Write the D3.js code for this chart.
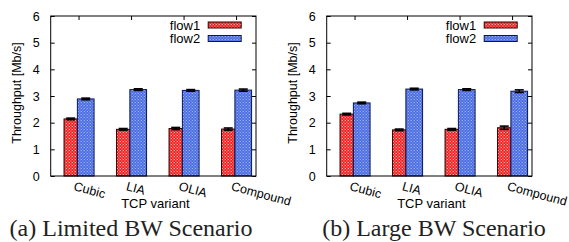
<!DOCTYPE html>
<html>
<head>
<meta charset="utf-8">
<script src="https://cdn.jsdelivr.net/npm/d3@7"></script>
<style>
  body { margin: 0; background: #fff; }
  svg { display: block; }
  text { font-family: "Liberation Sans", Arial, sans-serif; fill: #000; }
  .caption { font-family: "Liberation Serif", "Times New Roman", serif; fill: #222; }
</style>
</head>
<body>
<svg width="569" height="242"></svg>
<script>
const categories = ["Cubic", "LIA", "OLIA", "Compound"];
const seriesNames = ["flow1", "flow2"];
const yTicks = [0, 1, 2, 3, 4, 5, 6];

// (a) limited bandwidth
const limitedFlow1 = [2.14, 1.75, 1.78, 1.76];
const limitedFlow2 = [2.89, 3.24, 3.21, 3.22];
const limitedErr1 = [0.03, 0.03, 0.04, 0.04];
const limitedErr2 = [0.03, 0.03, 0.03, 0.04];

// (b) large bandwidth
const largeFlow1 = [2.32, 1.73, 1.75, 1.81];
const largeFlow2 = [2.74, 3.26, 3.24, 3.18];
const largeErr1 = [0.03, 0.03, 0.03, 0.06];
const largeErr2 = [0.03, 0.03, 0.03, 0.05];

const panels = [
  { left: 50.7, captionX: 131, caption: "(a) Limited BW Scenario", values: [limitedFlow1, limitedFlow2], errors: [limitedErr1, limitedErr2] },
  { left: 326.7, captionX: 434, caption: "(b) Large BW Scenario", values: [largeFlow1, largeFlow2], errors: [largeErr1, largeErr2] }
];

const svg = d3.select("svg");
const defs = svg.append("defs");

// checkered fills like gnuplot's fill pattern
function checker(id, base, dot) {
  const p = defs.append("pattern")
    .attr("id", id)
    .attr("patternUnits", "userSpaceOnUse")
    .attr("width", 3).attr("height", 3);
  p.append("rect").attr("width", 3).attr("height", 3).attr("fill", base);
  p.append("rect").attr("x", 0).attr("y", 0).attr("width", 1.1).attr("height", 1.1).attr("fill", dot);
  p.append("rect").attr("x", 1.5).attr("y", 1.5).attr("width", 1.1).attr("height", 1.1).attr("fill", dot);
}
checker("redcheck", "#f00a0a", "#ffeaea");
checker("bluecheck", "#3e62e0", "#bccbf8");

const fills = ["url(#redcheck)", "url(#bluecheck)"];
const strokes = ["#2a0000", "#0a1650"];

const plotW = 205.3, plotTop = 16, plotBottom = 176;

const y = d3.scaleLinear().domain([0, 6]).range([plotBottom, plotTop]);
const x = d3.scaleLinear().domain([-0.54, 3.37]).range([0, plotW]);
const unit = x(1) - x(0);
// bar edges relative to cluster centre, in category units
const barEdges = [[-0.286, -0.032], [-0.032, 0.286]];

panels.forEach(panel => {
  const g = svg.append("g").attr("transform", `translate(${panel.left},0)`);

  // bars
  panel.values.forEach((vals, s) => {
    g.append("g").selectAll("rect")
      .data(vals)
      .join("rect")
      .attr("x", (d, i) => x(i + barEdges[s][0]))
      .attr("width", (barEdges[s][1] - barEdges[s][0]) * unit)
      .attr("y", d => y(d))
      .attr("height", d => y(0) - y(d))
      .attr("fill", fills[s])
      .attr("stroke", strokes[s])
      .attr("stroke-width", 1);
  });

  // error bars
  panel.values.forEach((vals, s) => {
    const errs = panel.errors[s];
    const eg = g.append("g").attr("stroke", "#000").attr("stroke-width", 1.6);
    vals.forEach((v, i) => {
      const cx = x(i + (barEdges[s][0] + barEdges[s][1]) / 2);
      eg.append("line").attr("x1", cx).attr("x2", cx).attr("y1", y(v - errs[i])).attr("y2", y(v + errs[i]));
      [v - errs[i], v + errs[i]].forEach(e => {
        eg.append("line").attr("x1", cx - 4.5).attr("x2", cx + 4.5).attr("y1", y(e)).attr("y2", y(e));
      });
    });
  });

  // frame
  g.append("rect")
    .attr("x", 0).attr("y", plotTop)
    .attr("width", plotW).attr("height", plotBottom - plotTop)
    .attr("fill", "none").attr("stroke", "#000").attr("stroke-width", 1);

  // y axis with inward ticks, mirrored on the right
  const yAxis = g.append("g").call(d3.axisLeft(y).tickValues(yTicks).tickFormat(d3.format("d"))
    .tickSizeInner(-4).tickSizeOuter(0).tickPadding(11));
  yAxis.select(".domain").remove();
  yAxis.selectAll("text").attr("font-size", 12.5).attr("font-family", null);
  const yRight = g.append("g").attr("transform", `translate(${plotW},0)`)
    .call(d3.axisRight(y).tickValues(yTicks).tickSizeInner(-4).tickSizeOuter(0).tickFormat(""));
  yRight.select(".domain").remove();

  // top mirror ticks at clusters
  g.append("g").selectAll("line")
    .data(categories)
    .join("line")
    .attr("x1", (d, i) => x(i)).attr("x2", (d, i) => x(i))
    .attr("y1", plotTop).attr("y2", plotTop + 4)
    .attr("stroke", "#000");

  // rotated category labels
  g.append("g").selectAll("text")
    .data(categories)
    .join("text")
    .attr("transform", (d, i) => `translate(${x(i) - 6},190) rotate(15)`)
    .attr("font-size", 12.5)
    .text(d => d);

  g.append("text")
    .attr("x", plotW / 2 + 2).attr("y", 208)
    .attr("text-anchor", "middle")
    .attr("font-size", 13)
    .text("TCP variant");

  g.append("text")
    .attr("transform", `translate(-30,93) rotate(-90)`)
    .attr("text-anchor", "middle")
    .attr("font-size", 12.5)
    .text("Throughput [Mb/s]");

  // legend
  seriesNames.forEach((name, s) => {
    const ly = 25 + s * 13.5;
    g.append("text")
      .attr("x", 149.5).attr("y", ly + 4.5)
      .attr("text-anchor", "end")
      .attr("font-size", 13)
      .text(name);
    g.append("rect")
      .attr("x", 157.5).attr("y", ly - 3)
      .attr("width", 33).attr("height", 6)
      .attr("fill", fills[s])
      .attr("stroke", strokes[s])
      .attr("stroke-width", 1);
  });

  svg.append("text")
    .attr("class", "caption")
    .attr("x", panel.captionX).attr("y", 236)
    .attr("text-anchor", "middle")
    .attr("font-size", 24)
    .text(panel.caption);
});
</script>
</body>
</html>
